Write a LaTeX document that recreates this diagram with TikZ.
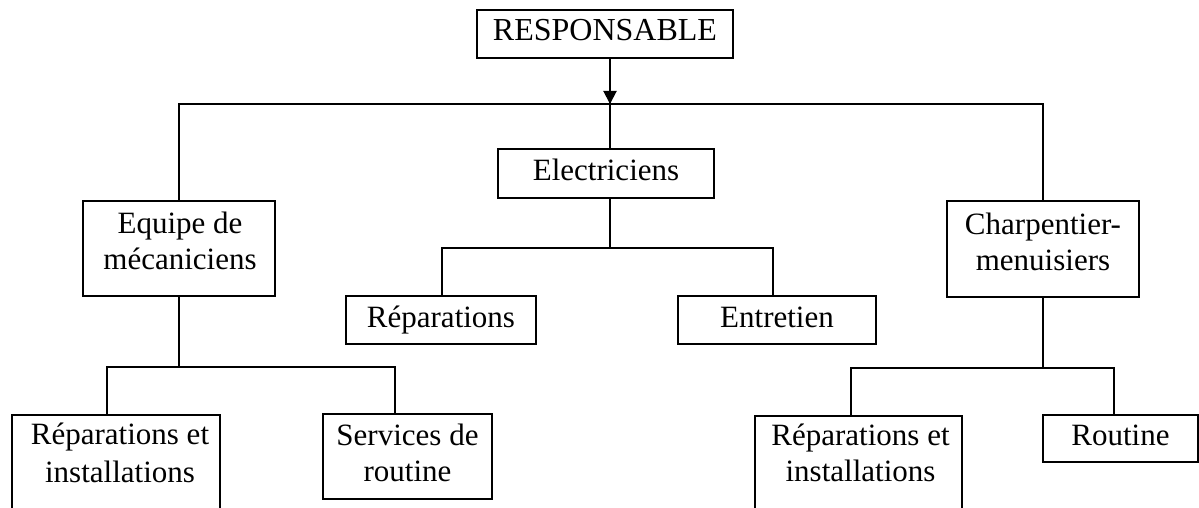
\documentclass[tikz,border=0pt]{standalone}
\usepackage{fontspec}
\setmainfont{Liberation Serif}
\usetikzlibrary{arrows.meta,calc}
\begin{document}
\begin{tikzpicture}[x=1pt,y=-1pt,
  box/.style={draw=black, line width=2pt, inner sep=0pt, align=center,
    text height=20pt, text depth=6pt, font=\fontsize{31}{36}\selectfont},
  frame/.style={draw=black, line width=2pt, inner sep=0pt},
  txt/.style={inner sep=0pt, align=center, font=\fontsize{31}{36}\selectfont},
  wire/.style={line width=2pt}]
\useasboundingbox (0,0) rectangle (1199,508);
\clip (0,0) rectangle (1199,508);
\fill[white] (0,0) rectangle (1199,508);

% single-line boxes
\node[box, minimum width=256, minimum height=48, font=\fontsize{32}{36}\selectfont] (resp) at (605,34) {RESPONSABLE};
\node[box, minimum width=216, minimum height=49] (elec) at (606,173.5) {Electriciens};
\node[box, minimum width=190, minimum height=48] (repE) at (441,320) {Réparations};
\node[box, minimum width=198, minimum height=48] (entr) at (777,320) {Entretien};
\node[box, minimum width=155, minimum height=47] (rout) at (1120.5,438.5) {Routine};

% two-line boxes: frame first, then its text from the top edge
\node[frame, minimum width=192, minimum height=95] (equipe) at (179,248.5) {};
\node[txt, anchor=north] (equipeT) at ($(equipe.north)+(1,12)$) {Equipe de\\mécaniciens};
\node[frame, minimum width=192, minimum height=96] (charp) at (1043,249) {};
\node[txt, anchor=north] (charpT) at ($(charp.north)+(0,13)$) {Charpentier-\\menuisiers};
\node[frame, minimum width=169, minimum height=85] (serv) at (407.5,456.5) {};
\node[txt, anchor=north] (servT) at ($(serv.north)+(0,11)$) {Services de\\routine};
\node[frame, minimum width=208, minimum height=130, anchor=north] (ri1) at (116,414) {};
\node[txt, anchor=north, font=\fontsize{31}{38}\selectfont] (ri1T) at ($(ri1.north)+(4,9)$) {Réparations et\\installations};
\node[frame, minimum width=207, minimum height=130, anchor=north] (ri2) at (858.5,415) {};
\node[txt, anchor=north] (ri2T) at ($(ri2.north)+(2,9)$) {Réparations et\\installations};

% bus points
\coordinate (top) at (610,104);
\coordinate (eb) at (610,248);
\coordinate (ebL) at (442,248);
\coordinate (ebR) at (773,248);
\coordinate (mL) at (107,367);
\coordinate (mR) at (395,367);
\coordinate (cL) at (851,368);
\coordinate (cR) at (1114,368);

% top level
\draw[wire] (resp.south -| top) -- (top |- elec.north);
\draw[wire, -{Triangle[width=13pt,length=13pt]}] (resp.south -| top) -- (top);
\draw[wire] (equipe.north) -- (equipe.north |- top) -- (charp.north |- top) -- (charp.north);

% electricians
\draw[wire] (elec.south -| eb) -- (eb);
\draw[wire] (ebL |- repE.north) -- (ebL) -- (ebR) -- (ebR |- entr.north);

% mechanics
\draw[wire] (equipe.south) -- (equipe.south |- mL);
\draw[wire] (mL |- ri1.north) -- (mL) -- (mR) -- (mR |- serv.north);

% carpenters
\draw[wire] (charp.south) -- (charp.south |- cL);
\draw[wire] (cL |- ri2.north) -- (cL) -- (cR) -- (cR |- rout.north);
\end{tikzpicture}
\end{document}
